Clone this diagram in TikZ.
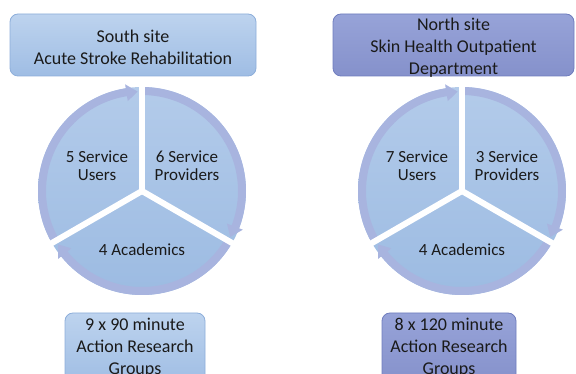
\documentclass[tikz,border=0pt]{standalone}
\usepackage{fontspec}
\setmainfont{Carlito}
\usetikzlibrary{positioning}
\definecolor{blueTop}{HTML}{BDD3EE}
\definecolor{blueBot}{HTML}{9FBDE4}
\definecolor{blueEdge}{HTML}{8DAEDA}
\definecolor{purpTop}{HTML}{97A3D8}
\definecolor{purpBot}{HTML}{8591CB}
\definecolor{purpEdge}{HTML}{6F7DBE}
\definecolor{pieTop}{HTML}{B3CBEA}
\definecolor{pieBot}{HTML}{9CBBE2}
\definecolor{rimc}{HTML}{A8B4DF}
\definecolor{txt}{HTML}{1A1A1A}
\tikzset{
  bluebox/.style={draw=blueEdge,line width=0.8pt,rounded corners=8pt,top color=blueTop,bottom color=blueBot},
  purplebox/.style={draw=purpEdge,line width=0.8pt,rounded corners=8pt,top color=purpTop,bottom color=purpBot},
  boxtext/.style={align=center,inner sep=0pt,font=\fontsize{18}{22}\selectfont,text=txt},
  segtext/.style={align=center,inner sep=0pt,font=\fontsize{17}{18}\selectfont,text=txt},
  rim/.style={fill=rimc},
  gap/.style={draw=white,line width=6pt},
}

\begin{document}
\begin{tikzpicture}[x=1pt,y=-1pt]
  \clip (0,0) rectangle (576,374);
  % site boxes
  \node[bluebox,minimum width=246pt,minimum height=62pt] (south) at (133,45) {};
  \node[boxtext] (southtxt) at (133,47) {South site\\Acute Stroke Rehabilitation};
  \node[purplebox,minimum width=241pt,minimum height=62pt] (north) at (453.5,45) {};
  \node[boxtext] (northtxt) at (453.5,47.5) {North site\\Skin Health Outpatient\\Department};
  % segmented cycles
  \foreach \cx in {142,462} {
    \shade[top color=pieTop,bottom color=pieBot] (\cx,191) circle[radius=104];
    \begin{scope}[shift={(\cx,191)},yscale=-1]
      \foreach \s/\e in {210/90,90/-30,-30/-150}
        \fill[rim] (\s-1:104) arc[start angle=\s-1,end angle=\e+9,radius=104]
          -- (\e+9:108) -- (\e+2.5:99.5) -- (\e+9:91) -- (\e+9:96)
          arc[start angle=\e+9,end angle=\s-1,radius=96] -- cycle;
      \foreach \a in {90,210,330}
        \draw[gap] (0,0) -- (\a:114);
    \end{scope}
  }
  \node[segtext] (susers) at (97,166) {5 Service\\Users};
  \node[segtext] (sprov) at (187,166) {6 Service\\Providers};
  \node[segtext] (sacad) at (142,250) {4 Academics};
  \node[segtext] (nusers) at (417,166) {7 Service\\Users};
  \node[segtext] (nprov) at (507,166) {3 Service\\Providers};
  \node[segtext] (nacad) at (462,250) {4 Academics};
  % group boxes
  \node[bluebox,minimum width=140pt,minimum height=72pt] (sgroups) at (135,349) {};
  \node[boxtext] (sgtxt) at (135,348) {9 x 90 minute\\Action Research\\Groups};
  \node[purplebox,minimum width=134pt,minimum height=72pt] (ngroups) at (449,349) {};
  \node[boxtext] (ngtxt) at (449,348) {8 x 120 minute\\Action Research\\Groups};
\end{tikzpicture}
\end{document}
